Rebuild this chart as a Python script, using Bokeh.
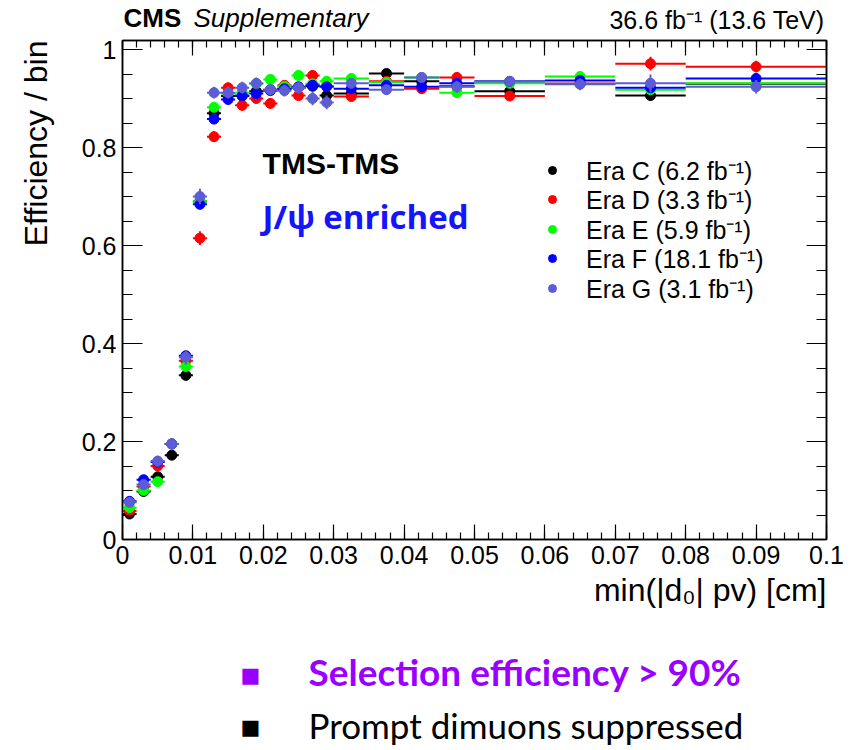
from bokeh.plotting import figure
from bokeh.layouts import column
from bokeh.models import (Range1d, FixedTicker, LinearAxis, Label, Legend, LegendItem, Title,
                          ColumnDataSource, NumeralTickFormatter)
from bokeh.embed import file_html
from bokeh.resources import INLINE

# ---------------- data ----------------
bin_lo = [0.000, 0.002, 0.004, 0.006, 0.008, 0.010, 0.012, 0.014, 0.016, 0.018, 0.020, 0.022,
          0.024, 0.026, 0.028, 0.030, 0.035, 0.040, 0.045, 0.050, 0.060, 0.070, 0.080]
bin_hi = [0.002, 0.004, 0.006, 0.008, 0.010, 0.012, 0.014, 0.016, 0.018, 0.020, 0.022, 0.024,
          0.026, 0.028, 0.030, 0.035, 0.040, 0.045, 0.050, 0.060, 0.070, 0.080, 0.100]

era_names = ["Era C (6.2 fb\u207b\u00b9)", "Era D (3.3 fb\u207b\u00b9)", "Era E (5.9 fb\u207b\u00b9)",
             "Era F (18.1 fb\u207b\u00b9)", "Era G (3.1 fb\u207b\u00b9)"]
era_colors = ["#000000", "#ff0000", "#00ff00", "#0000ff", "#5c5cd6"]

eff_C = [0.052, 0.098, 0.128, 0.172, 0.335, 0.690, 0.870, 0.905, 0.905, 0.915, 0.918, 0.920,
         0.922, 0.925, 0.906, 0.910, 0.951, 0.935, 0.925, 0.915, 0.930, 0.906, 0.930]
eff_D = [0.058, 0.108, 0.150, 0.195, 0.365, 0.615, 0.822, 0.922, 0.886, 0.900, 0.890, 0.927,
         0.906, 0.947, 0.925, 0.904, 0.935, 0.920, 0.943, 0.905, 0.930, 0.971, 0.965]
eff_E = [0.065, 0.100, 0.118, 0.195, 0.353, 0.690, 0.882, 0.910, 0.912, 0.930, 0.939, 0.925,
         0.947, 0.930, 0.935, 0.941, 0.933, 0.943, 0.912, 0.931, 0.945, 0.918, 0.931]
eff_F = [0.078, 0.122, 0.158, 0.195, 0.375, 0.684, 0.858, 0.898, 0.906, 0.910, 0.916, 0.920,
         0.924, 0.927, 0.924, 0.920, 0.927, 0.924, 0.931, 0.935, 0.937, 0.922, 0.941]
eff_G = [0.076, 0.112, 0.160, 0.195, 0.372, 0.700, 0.912, 0.912, 0.922, 0.931, 0.918, 0.916,
         0.922, 0.900, 0.892, 0.931, 0.918, 0.943, 0.924, 0.935, 0.929, 0.931, 0.924]

err_C = [0.005, 0.006, 0.007, 0.008, 0.010, 0.010, 0.008, 0.007, 0.007, 0.007, 0.007, 0.007,
         0.007, 0.008, 0.008, 0.006, 0.006, 0.006, 0.007, 0.006, 0.007, 0.010, 0.008]
err_D = [0.007, 0.008, 0.009, 0.010, 0.012, 0.014, 0.011, 0.010, 0.010, 0.010, 0.010, 0.010,
         0.010, 0.011, 0.011, 0.009, 0.009, 0.009, 0.010, 0.009, 0.010, 0.014, 0.012]
err_E = [0.005, 0.006, 0.007, 0.008, 0.010, 0.010, 0.008, 0.007, 0.007, 0.007, 0.007, 0.007,
         0.007, 0.008, 0.008, 0.006, 0.006, 0.006, 0.007, 0.006, 0.007, 0.009, 0.008]
err_F = [0.004, 0.005, 0.005, 0.006, 0.007, 0.007, 0.006, 0.005, 0.005, 0.005, 0.005, 0.005,
         0.005, 0.005, 0.005, 0.004, 0.004, 0.004, 0.005, 0.004, 0.005, 0.006, 0.005]
err_G = [0.009, 0.010, 0.011, 0.012, 0.015, 0.016, 0.012, 0.012, 0.012, 0.012, 0.012, 0.012,
         0.012, 0.014, 0.014, 0.010, 0.010, 0.010, 0.012, 0.010, 0.012, 0.018, 0.014]

x_major = [0, 0.01, 0.02, 0.03, 0.04, 0.05, 0.06, 0.07, 0.08, 0.09, 0.1]
y_major = [0, 0.2, 0.4, 0.6, 0.8, 1.0]

# ---------------- layout constants ----------------
W = 856
HEAD_H = 35
FL, FR = 122, 826                # frame left/right (px)
TOP_B, FRAME_H, BOT_B = 5, 499, 81
MAIN_H = TOP_B + FRAME_H + BOT_B
FOOT_H = 750 - HEAD_H - MAIN_H
XMAX, YMAX = 0.1, 1.0184
FONT = "Liberation Sans"
LEGEND_ROW_Y = [352.5, 323.0, 293.5, 264.0, 234.5]   # legend row offsets above frame bottom (px)


def blank_fig(h):
    # frame spans the same columns as the chart frame; data units = page pixels
    f = figure(width=W, height=h, x_range=Range1d(FL, FR), y_range=Range1d(h, 0),
               output_backend="svg", toolbar_location=None, title=None,
               x_axis_location=None, y_axis_location=None,
               min_border_left=FL, min_border_right=W - FR, min_border_top=0,
               min_border_bottom=0)
    f.xgrid.visible = False
    f.ygrid.visible = False
    f.outline_line_color = None
    f.background_fill_color = "white"
    f.border_fill_color = "white"
    return f


def add_text(f, x, base_y, text, size, color="black", font=FONT, style="normal",
             align="left"):
    # anchored at the text bottom; base_y is the wanted baseline
    f.add_layout(Label(x=x, y=base_y + 0.21 * size, text=text, text_font=font,
                       text_font_size=f"{size}px", text_color=color, text_font_style=style,
                       text_align=align, text_baseline="bottom"))


# ---------------- header ----------------
head = blank_fig(HEAD_H)
add_text(head, 123, 27, "CMS", 26, style="bold")
add_text(head, 193, 27, "Supplementary", 26, style="italic")
add_text(head, 824, 28, "36.6 fb\u207b\u00b9 (13.6 TeV)", 25, align="right")

# ---------------- main plot ----------------
p = figure(width=W, height=MAIN_H, x_range=Range1d(0, XMAX), y_range=Range1d(0, YMAX),
           output_backend="svg", toolbar_location=None,
           min_border_left=FL, min_border_right=W - FR, min_border_top=TOP_B,
           min_border_bottom=BOT_B)
p.xgrid.visible = False
p.ygrid.visible = False
p.outline_line_color = "black"
p.outline_line_width = 1.5
p.background_fill_color = "white"
p.border_fill_color = "white"

x_minor = [round(i * 0.002, 3) for i in range(51)]
y_minor = [round(i * 0.05, 2) for i in range(21)]


def style_axis(ax, tick_major, tick_minor, show_labels):
    ax.axis_line_color = "black"
    ax.axis_line_width = 1.5
    ax.major_tick_in = tick_major
    ax.major_tick_out = 0
    ax.minor_tick_in = tick_minor
    ax.minor_tick_out = 0
    ax.major_tick_line_color = "black"
    ax.minor_tick_line_color = "black"
    ax.major_tick_line_width = 1.2
    ax.minor_tick_line_width = 1.2
    if show_labels:
        ax.major_label_text_font = FONT
        ax.major_label_text_font_size = "25px"
        ax.major_label_text_color = "black"
        ax.major_label_standoff = 6
    else:
        ax.major_label_text_font_size = "1px"
        ax.major_label_text_alpha = 0
        ax.major_label_standoff = 0


xax = p.xaxis[0]
xax.ticker = FixedTicker(ticks=x_major, minor_ticks=x_minor)
xax.formatter = NumeralTickFormatter(format="0.[00]")
style_axis(xax, 15, 7, True)

yax = p.yaxis[0]
yax.ticker = FixedTicker(ticks=y_major, minor_ticks=y_minor)
yax.formatter = NumeralTickFormatter(format="0.[0]")
style_axis(yax, 20, 10, True)
# invisible spacer label to push the axis title outward
yax.axis_label = "\u200b"
yax.axis_label_text_font_size = "16px"
yax.axis_label_standoff = 0

top_ax = LinearAxis(ticker=FixedTicker(ticks=x_major, minor_ticks=x_minor))
style_axis(top_ax, 15, 7, False)
p.add_layout(top_ax, "above")
right_ax = LinearAxis(ticker=FixedTicker(ticks=y_major, minor_ticks=y_minor))
style_axis(right_ax, 20, 10, False)
p.add_layout(right_ax, "right")

p.add_layout(Title(text="Efficiency / bin", align="right", text_font=FONT,
                   text_font_size="32px", text_font_style="normal", text_color="black"), "left")
p.add_layout(Title(text="min(|d\u2080| pv) [cm]", align="right", text_font=FONT,
                   text_font_size="32px", text_font_style="normal", text_color="black",
                   vertical_align="top"), "below")

effs = [eff_C, eff_D, eff_E, eff_F, eff_G]
errs = [err_C, err_D, err_E, err_F, err_G]
centers = [(a + b) / 2 for a, b in zip(bin_lo, bin_hi)]

for name, col, eff, err, ly in zip(era_names, era_colors, effs, errs, LEGEND_ROW_Y):
    src = ColumnDataSource(dict(
        x=centers, y=eff, lo=bin_lo, hi=bin_hi,
        ylo=[v - e for v, e in zip(eff, err)], yhi=[v + e for v, e in zip(eff, err)]))
    p.segment(x0="lo", y0="y", x1="hi", y1="y", source=src, line_color=col, line_width=2)
    p.segment(x0="x", y0="ylo", x1="x", y1="yhi", source=src, line_color=col, line_width=2)
    r = p.scatter(x="x", y="y", source=src, size=10, marker="circle",
                  fill_color=col, line_color=col)
    lg = Legend(items=[LegendItem(label=name, renderers=[r])], location=(420, ly))
    lg.border_line_color = None
    lg.background_fill_alpha = 0
    lg.label_text_font = FONT
    lg.label_text_font_size = "25px"
    lg.label_text_color = "black"
    lg.label_text_line_height = 1.0
    lg.glyph_width = 20
    lg.glyph_height = 20
    lg.label_height = 20
    lg.spacing = 0
    lg.label_standoff = 24
    lg.padding = 0
    lg.margin = 0
    p.add_layout(lg)

# in-frame texts (data coordinates of the plot)
p.add_layout(Label(x=0.0199, y=0.733, text="TMS-TMS", text_font=FONT, text_font_size="30px",
                   text_font_style="bold", text_color="black"))
p.add_layout(Label(x=0.0199, y=0.613, text="J/\u03c8 enriched", text_font="Open Sans",
                   text_font_size="33px", text_font_style="bold", text_color="#1414ff"))

# ---------------- footer ----------------
FOOT_TOP = 750 - FOOT_H
foot = blank_fig(FOOT_H)
add_text(foot, 240, 682 - FOOT_TOP, "\u25a0", 21, color="#9a00ff", font="DejaVu Sans")
add_text(foot, 308, 686 - FOOT_TOP, "Selection efficiency > 90%", 37, color="#9a00ff",
         font="Lato", style="bold")
add_text(foot, 240, 734 - FOOT_TOP, "\u25a0", 21, color="black", font="DejaVu Sans")
add_text(foot, 308, 738 - FOOT_TOP, "Prompt dimuons suppressed", 35, color="black", font="Lato")

layout = column(head, p, foot, spacing=0)
open("out.html", "w").write(file_html(layout, INLINE))
